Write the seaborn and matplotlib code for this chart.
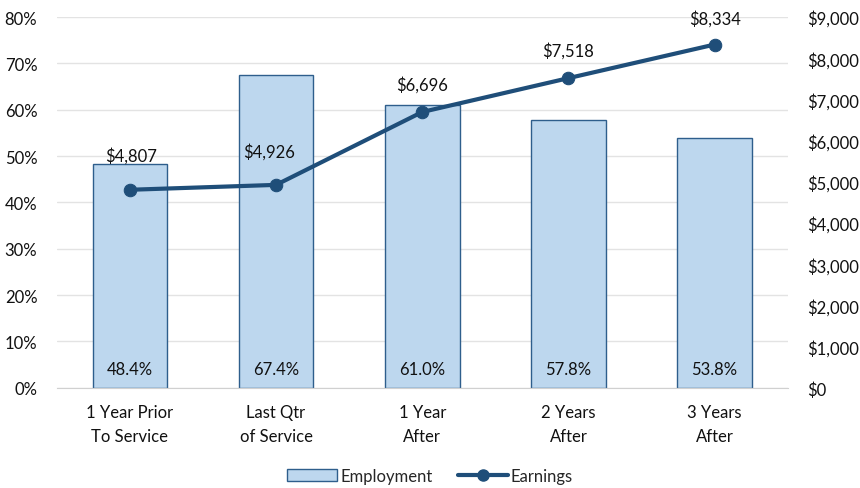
import matplotlib.pyplot as plt
from matplotlib.patches import Patch
from matplotlib.lines import Line2D
from matplotlib.ticker import FuncFormatter
import numpy as np
import pandas as pd
import seaborn as sns

categories = ['1 Year Prior\nTo Service', 'Last Qtr\nof Service', '1 Year\nAfter', '2 Years\nAfter', '3 Years\nAfter']
employment = [48.4, 67.4, 61.0, 57.8, 53.8]
earnings = [4807, 4926, 6696, 7518, 8334]

df = pd.DataFrame({'Period': categories, 'Employment': employment, 'Earnings': earnings})

sns.set_style('white')
plt.rcParams['font.family'] = ['Lato', 'DejaVu Sans']

bar_col = '#BDD7EE'
edge_col = '#2E5E8C'
line_col = '#1F4E79'
fs = 12

fig, ax = plt.subplots(figsize=(8.6, 4.89), dpi=100)
fig.subplots_adjust(left=0.066, right=0.916, top=0.963, bottom=0.205)

sns.barplot(data=df, x='Period', y='Employment', color=bar_col, edgecolor=edge_col,
            linewidth=1.0, width=0.51, saturation=1, ax=ax, zorder=2)
ax.set_ylim(0, 80)
ax.set_yticks(np.arange(0, 81, 10))
ax.yaxis.set_major_formatter(FuncFormatter(lambda v, p: '%d%%' % v))
ax.grid(axis='y', color='#E3E3E3', linewidth=1, zorder=0)
ax.set_axisbelow(True)
ax.set_xlabel('')
ax.set_ylabel('')
for s in ['top', 'right', 'left']:
    ax.spines[s].set_visible(False)
ax.spines['bottom'].set_color('#D0D0D0')
ax.tick_params(axis='both', length=0, labelsize=fs, colors='#111111')
ax.tick_params(axis='x', pad=12)
ax.tick_params(axis='y', pad=14)
for lab in ax.get_xticklabels():
    lab.set_linespacing(1.55)

for i, v in enumerate(employment):
    ax.text(i, 4, '%.1f%%' % v, ha='center', va='center', fontsize=fs, color='#111111', zorder=3)

ax2 = ax.twinx()
sns.lineplot(x=np.arange(len(categories)), y=earnings, color=line_col, linewidth=3,
             marker='o', markersize=9, markeredgecolor=line_col, ax=ax2, zorder=4)
ax2.set_ylim(0, 9000)
ax2.set_yticks(np.arange(0, 9001, 1000))
ax2.yaxis.set_major_formatter(FuncFormatter(lambda v, p: '${:,.0f}'.format(v)))
ax2.tick_params(axis='y', length=0, labelsize=fs, colors='#111111', pad=14)
for s in ['top', 'right', 'left', 'bottom']:
    ax2.spines[s].set_visible(False)
ax2.set_xlim(-0.5, len(categories) - 0.5)

# label offsets in points (the first two labels sit a bit higher in the original)
label_dx = [1, -5, 0, 0, 0]
label_dy = [19, 18, 14, 14, 13]
for i, v in enumerate(earnings):
    ax2.annotate('${:,.0f}'.format(v), xy=(i, v), xytext=(label_dx[i], label_dy[i]),
                 textcoords='offset points', ha='center', va='bottom', fontsize=fs, color='#111111')

handles = [Patch(facecolor=bar_col, edgecolor=edge_col, linewidth=1.0),
           Line2D([0], [0], color=line_col, linewidth=3, marker='o', markersize=8)]
fig.legend(handles, ['Employment', 'Earnings'], loc='lower center', ncol=2, frameon=False,
           fontsize=fs, bbox_to_anchor=(0.5, -0.022), handlelength=3, columnspacing=1.5,
           handletextpad=0.2)

fig.savefig('out.png', dpi=100)
